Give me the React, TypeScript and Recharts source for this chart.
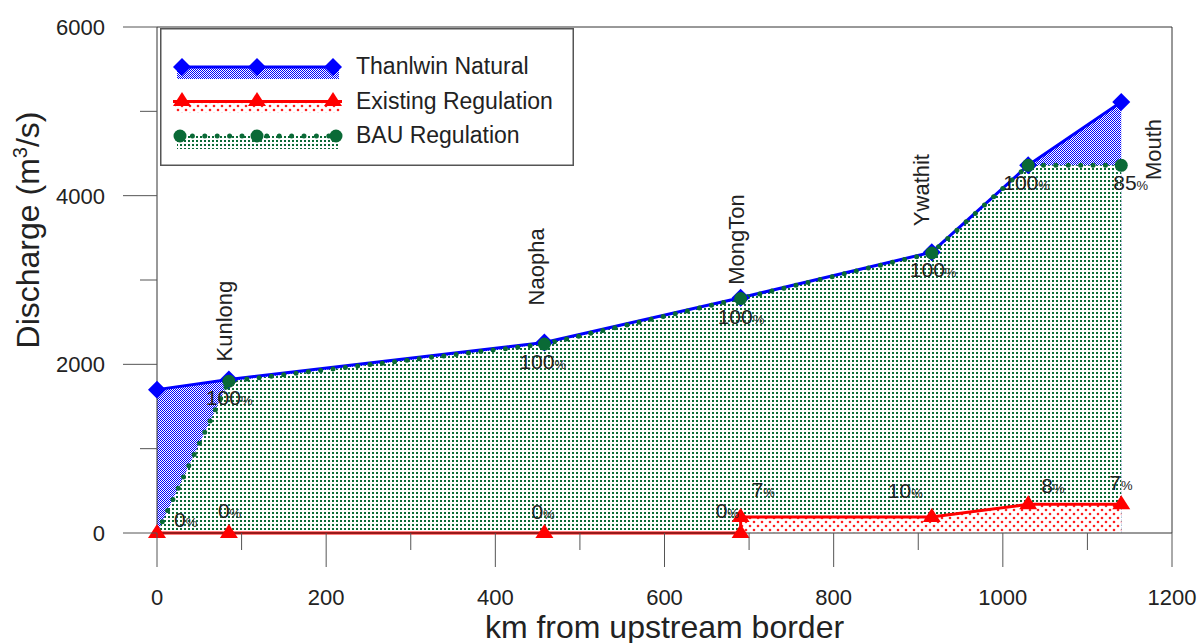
import {
  Area,
  ComposedChart,
  LabelList,
  Legend,
  Line,
  ReferenceLine,
  XAxis,
  YAxis,
} from "recharts";

const stationKm = [0, 85, 458, 690, 916, 1030, 1140];
const stationNames = ["", "Kunlong", "Naopha", "MongTon", "Ywathit", "", "Mouth"];
const naturalQ = [1700, 1820, 2260, 2790, 3330, 4360, 5110];
const bauQ = [0, 1800, 2240, 2780, 3320, 4360, 4360];
const bauPct = ["0", "100", "100", "100", "100", "100", "85"];
const existingKm = [0, 85, 458, 690, 690, 916, 1030, 1140];
const existingQ = [0, 0, 0, 0, 190, 190, 340, 340];
const existingPct = ["", "0", "0", "0", "7", "10", "8", "7"];
const xTicks = [0, 100, 200, 300, 400, 500, 600, 700, 800, 900, 1000, 1100, 1200];
const yTicks = [0, 1000, 2000, 3000, 4000, 5000, 6000];
const seriesNames = ["Thanlwin Natural", "Existing Regulation", "BAU Regulation"];

const naturalData = stationKm.map((km, i) => ({ km, q: naturalQ[i], name: stationNames[i] }));
const bauData = stationKm.map((km, i) => ({ km, q: bauQ[i], pct: bauPct[i] }));
const existingData = existingKm.map((km, i) => ({ km, q: existingQ[i], pct: existingPct[i] }));

// label offsets (px) from each point
const nameOffsets: (number[] | null)[] = [null, [3, -18], [0, -37], [3, -13], [-3, -26], null, [40, 78]];
const bauPctOffsets = [[17, -6], [-23, 24], [-25, 25], [-23, 25], [-22, 24], [-25, 25], [-8, 25]];
const existingPctOffsets: (number[] | null)[] = [null, [-11, -15], [-13, -14], [-25, -15], [11, -20], [-44, -19], [13, -11], [-12, -14]];

const FONT = '"Liberation Sans", Arial, sans-serif';
const BLUE = "#0000ff";
const RED = "#ff0000";
const GREEN = "#0a6a36";
const TEXT = "#222";

function pos(p: any) {
  const vb = p.viewBox || {};
  return { x: Number(p.x ?? vb.x), y: Number(p.y ?? vb.y) };
}

function Pct({ x, y, v }: { x: number; y: number; v: string }) {
  return (
    <text x={x} y={y} fontSize={21} fill={TEXT}>
      <tspan>{v}</tspan>
      <tspan fontSize={13}>%</tspan>
    </text>
  );
}

const diamond = (p: any) => {
  const { cx, cy, index } = p;
  return (
    <path
      key={`d${index}`}
      d={`M${cx},${cy - 9} L${cx + 9},${cy} L${cx},${cy + 9} L${cx - 9},${cy} Z`}
      fill={BLUE}
    />
  );
};

const triangle = (p: any) => {
  const { cx, cy, index } = p;
  return (
    <path
      key={`t${index}`}
      d={`M${cx},${cy - 9} L${cx + 9},${cy + 5} L${cx - 9},${cy + 5} Z`}
      fill={RED}
    />
  );
};

const bigDot = (p: any) => {
  const { cx, cy, index } = p;
  if (index === 0) return <g key={`b${index}`} />;
  return <circle key={`b${index}`} cx={cx} cy={cy} r={6.5} fill={GREEN} />;
};

const XTick = (p: any) => {
  const { x, y, payload } = p;
  const major = payload.value % 200 === 0;
  return (
    <g>
      <line x1={x} x2={x} y1={y} y2={y + (major ? 34 : 17)} stroke="#555" />
      {major && (
        <text x={x} y={y + 72} textAnchor="middle" fontSize={22} fill={TEXT}>
          {payload.value}
        </text>
      )}
    </g>
  );
};

const YTick = (p: any) => {
  const { x, y, payload } = p;
  const major = payload.value % 2000 === 0;
  return (
    <g>
      <line x1={x - (major ? 34 : 17)} x2={x} y1={y} y2={y} stroke="#555" />
      {major && (
        <text x={x - 52} y={y + 8} textAnchor="end" fontSize={22} fill={TEXT}>
          {payload.value}
        </text>
      )}
    </g>
  );
};

function LegendBox() {
  return (
    <svg width={414} height={138} style={{ display: "block", fontFamily: FONT }}>
      <rect x={0.75} y={0.75} width={412.5} height={136.5} fill="#fff" stroke="#555" strokeWidth={1.5} />
      {/* natural */}
      <rect x={17} y={39} width={162} height={12} fill="url(#blueHatch)" />
      <line x1={22} x2={173} y1={39} y2={39} stroke={BLUE} strokeWidth={3} />
      {[22, 97, 173].map((cx) => diamond({ cx, cy: 39, index: cx }))}
      <text x={196} y={46} fontSize={23} fill={TEXT}>{seriesNames[0]}</text>
      {/* existing */}
      <rect x={15} y={74} width={165} height={11} fill="url(#redDots)" />
      <line x1={13} x2={182} y1={73.5} y2={73.5} stroke={RED} strokeWidth={3} />
      {[22, 97, 173].map((cx) => triangle({ cx, cy: 73, index: cx }))}
      <text x={196} y={81} fontSize={23} fill={TEXT}>{seriesNames[1]}</text>
      {/* bau */}
      <rect x={17} y={108} width={163} height={13} fill="url(#greenDots)" />
      <line
        x1={20}
        x2={176}
        y1={108}
        y2={108}
        stroke={GREEN}
        strokeWidth={5}
        strokeDasharray="0 12.4"
        strokeLinecap="round"
      />
      {[20, 97, 176].map((cx) => (
        <circle key={cx} cx={cx} cy={108} r={6.5} fill={GREEN} />
      ))}
      <text x={196} y={115} fontSize={23} fill={TEXT}>{seriesNames[2]}</text>
    </svg>
  );
}

export default function App() {
  return (
    <div style={{ position: "absolute", left: 0, top: 0, fontFamily: FONT }}>
      <ComposedChart
        width={1202}
        height={643}
        margin={{ top: 27, right: 30, left: 0, bottom: 0 }}
        style={{ fontFamily: FONT }}
      >
        <defs>
          <pattern id="blueHatch" width="2" height="2" patternUnits="userSpaceOnUse">
            <rect width="2" height="2" fill="#fff" />
            <rect width="1" height="1" fill={BLUE} />
            <rect x="1" y="1" width="1" height="1" fill={BLUE} />
          </pattern>
          <pattern id="greenDots" width="4" height="4" patternUnits="userSpaceOnUse">
            <rect width="4" height="4" fill="#fff" />
            <rect width="2" height="2" fill="#0a6a36" />
          </pattern>
          <pattern id="redDots" width="8" height="8" patternUnits="userSpaceOnUse">
            <rect width="8" height="8" fill="#fff" />
            <circle cx="2" cy="2" r="1.3" fill="#ff2020" />
            <circle cx="6" cy="6" r="1.3" fill="#ff2020" />
          </pattern>
        </defs>
        <XAxis
          dataKey="km"
          type="number"
          domain={[0, 1200]}
          ticks={xTicks}
          interval={0}
          height={110}
          tickSize={0}
          tickMargin={0}
          tickLine={false}
          axisLine={{ stroke: "#333" }}
          tick={XTick}
          label={{
            content: () => (
              <text x={664.5} y={638} textAnchor="middle" fontSize={32} fill={TEXT}>
                km from upstream border
              </text>
            ),
          }}
        />
        <YAxis
          type="number"
          domain={[0, 6000]}
          ticks={yTicks}
          interval={0}
          width={157}
          tickSize={0}
          tickMargin={0}
          tickLine={false}
          axisLine={{ stroke: "#333" }}
          tick={YTick}
          label={{
            content: () => (
              <text
                transform="translate(39,230) rotate(-90)"
                textAnchor="middle"
                fontSize={32}
                fill={TEXT}
              >
                Discharge (m<tspan dy={-12} fontSize={20}>3</tspan>
                <tspan dy={12}>/s)</tspan>
              </text>
            ),
          }}
        />
        <ReferenceLine y={6000} stroke="#333" />
        <ReferenceLine x={1200} stroke="#333" />
        <Area
          data={naturalData}
          dataKey="q"
          type="linear"
          stroke="none"
          fill="url(#blueHatch)"
          fillOpacity={1}
          isAnimationActive={false}
        />
        <Area
          data={bauData}
          dataKey="q"
          type="linear"
          stroke="none"
          fill="url(#greenDots)"
          fillOpacity={1}
          isAnimationActive={false}
        />
        <Area
          data={existingData}
          dataKey="q"
          type="linear"
          stroke="none"
          fill="url(#redDots)"
          fillOpacity={1}
          isAnimationActive={false}
        />
        <Line
          data={naturalData}
          dataKey="q"
          type="linear"
          stroke={BLUE}
          strokeWidth={3}
          dot={diamond}
          activeDot={false}
          isAnimationActive={false}
        >
          <LabelList
            dataKey="name"
            content={(p: any) => {
              const off = nameOffsets[p.index];
              if (!off || !p.value) return null;
              const { x, y } = pos(p);
              return (
                <text
                  transform={`translate(${x + off[0]},${y + off[1]}) rotate(-90)`}
                  fontSize={22}
                  fill={TEXT}
                >
                  {p.value}
                </text>
              );
            }}
          />
        </Line>
        <Line
          data={bauData}
          dataKey="q"
          type="linear"
          stroke={GREEN}
          strokeWidth={5}
          strokeDasharray="0 12.4"
          strokeLinecap="round"
          dot={bigDot}
          activeDot={false}
          isAnimationActive={false}
        >
          <LabelList
            dataKey="pct"
            content={(p: any) => {
              const off = bauPctOffsets[p.index];
              if (!off || !p.value) return null;
              const { x, y } = pos(p);
              return <Pct x={x + off[0]} y={y + off[1]} v={p.value} />;
            }}
          />
        </Line>
        <Line
          data={existingData}
          dataKey="q"
          type="linear"
          stroke={RED}
          strokeWidth={3}
          dot={triangle}
          activeDot={false}
          isAnimationActive={false}
        >
          <LabelList
            dataKey="pct"
            content={(p: any) => {
              const off = existingPctOffsets[p.index];
              if (!off || !p.value) return null;
              const { x, y } = pos(p);
              return <Pct x={x + off[0]} y={y + off[1]} v={p.value} />;
            }}
          />
        </Line>
        <Legend
          layout="vertical"
          align="center"
          verticalAlign="middle"
          wrapperStyle={{ left: 160, top: 28, width: 414, height: 138 }}
          content={() => <LegendBox />}
        />
      </ComposedChart>
    </div>
  );
}
